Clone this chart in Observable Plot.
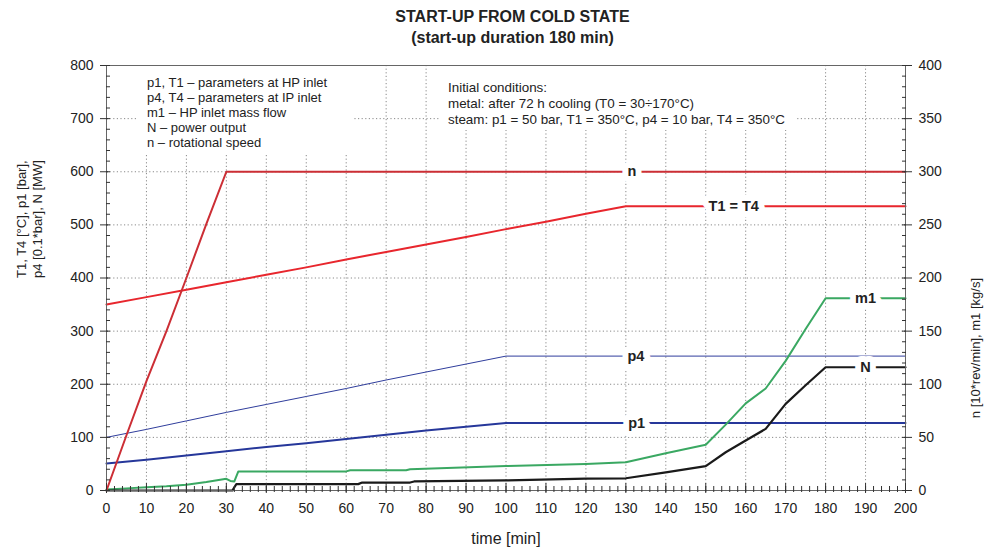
<!DOCTYPE html>
<html><head><meta charset="utf-8">
<script src="https://cdn.jsdelivr.net/npm/d3@7"></script>
<script src="https://cdn.jsdelivr.net/npm/@observablehq/plot@0.6"></script>
<style>
body{margin:0;background:#fff;font-family:"Liberation Sans",Arial,sans-serif;color:#222;}
#title{width:985px;height:52px;text-align:center;font-weight:bold;font-size:16px;line-height:21px;padding-top:6px;box-sizing:border-box;padding-left:40px;}
#wrap{position:relative;width:985px;}
.box{position:absolute;background:#fff;color:#222;white-space:nowrap;box-sizing:border-box;}
#box1{left:138px;top:14px;width:214px;height:88px;padding-left:9px;padding-top:9px;line-height:15px;font-size:13px;}
#box2{left:440px;top:14px;width:356px;height:64px;padding-left:8px;padding-top:14px;line-height:16px;font-size:13.4px;}
</style></head><body>
<div id="title">START-UP FROM COLD STATE<br>(start-up duration 180 min)</div>
<div id="wrap"><div id="chart"></div>
<div class="box" id="box1"></div>
<div class="box" id="box2"></div>
</div>
<script>
// ---- data (time in min) ----
const tT1 = [0,10,20,30,40,50,60,70,80,90,100,110,120,130,200];
const T1  = [350,364,378,392,406,420,435,449,463,477,492,506,521,535,535];
const tP  = [0,10,20,30,40,50,60,70,80,90,100,200];
const p4  = [100,115,131,147,162,177,192,208,223,238,253,253];
const p1  = [51,58,66,74,82,89,97,105,113,120,127,127];
const tN  = [0,31.5,32.5,63,64,76,77,100,120,130,140,150,155,160,165,170,175,180,200];
const N   = [0,0,12,12,15,15,17,19,22.5,23,34,46,72,94,116,163,198,232,232];
// right-axis series
const tn  = [0,5,10,15,20,25,30,200];
const n   = [0,52,103,150,200,251,300,300];
const tm1 = [0,5,10,15,20,25,30,31,32,33,60,61,75,76,100,120,130,140,150,155,160,165,170,175,180,200];
const m1  = [1,2,3,4,5.5,8,11,9,8.5,18,18,19,19,20,23,25,26.5,35,43,62,82,96,122,152,181,181];

const xTicks = d3.range(0, 201, 10);
const xMinor = d3.range(0, 201, 2);
const yTicks = d3.range(0, 801, 100);
const yMinor = d3.range(0, 801, 20);
const xGrid = d3.range(10, 200, 10);
const yGrid = d3.range(100, 800, 100);

const labelText = ["n", "T1 = T4", "m1", "p4", "N", "p1"];
const labelT    = [131.5, 157, 190, 132.5, 190, 132.7];
const labelV    = [300, 535, 181, 253, 232, 127];
const labelAxis = ["right", "left", "right", "left", "left", "left"];

const legend1 = ["p1, T1 – parameters at HP inlet","p4, T4 – parameters at IP inlet","m1 – HP inlet mass flow","N – power output","n – rotational speed"];
const legend2 = ["Initial conditions:","metal: after 72 h cooling (T0 = 30÷170°C)","steam: p1 = 50 bar, T1 = 350°C, p4 = 10 bar, T4 = 350°C"];
const leftLabel = "T1, T4 [°C], p1 [bar],\np4 [0.1*bar], N [MW]";
const rightLabel = "n [10*rev/min], m1 [kg/s]";
const xLabel = "time [min]";

const R = 2; // right axis (0–400) mapped onto left axis (0–800)
const rows = (ts, vs, k=1) => ts.map((t,i) => ({t, v: vs[i]*k}));
const labels = labelText.map((text,i) => ({text, t: labelT[i], v: labelV[i]*(labelAxis[i]==="right"?R:1)}));

document.getElementById("box1").innerHTML = legend1.join("<br>");
document.getElementById("box2").innerHTML = legend2.join("<br>");

const grid = {stroke:"#8a8a8a", strokeDasharray:"1.2,2.4", strokeWidth:1};
const chart = Plot.plot({
  width:985, height:502, marginLeft:106, marginRight:80, marginTop:13, marginBottom:64,
  x:{domain:[0,200]}, y:{domain:[0,800]},
  style:{fontFamily:"Liberation Sans, Arial, sans-serif", fontSize:"14px", background:"white", color:"#222"},
  marks:[
    Plot.ruleX(xGrid, {x:d=>d, ...grid}),
    Plot.ruleY(yGrid, {y:d=>d, ...grid}),
    Plot.line(rows(tP,p4), {x:"t", y:"v", stroke:"#2f3d9c", strokeWidth:1}),
    Plot.line(rows(tP,p1), {x:"t", y:"v", stroke:"#26379a", strokeWidth:2}),
    Plot.line(rows(tm1,m1,R), {x:"t", y:"v", stroke:"#3aa862", strokeWidth:2}),
    Plot.line(rows(tN,N), {x:"t", y:"v", stroke:"#1a1a1a", strokeWidth:2.2}),
    Plot.line(rows(tT1,T1), {x:"t", y:"v", stroke:"#e8262d", strokeWidth:2}),
    Plot.line(rows(tn,n,R), {x:"t", y:"v", stroke:"#cc2e35", strokeWidth:2}),
    Plot.text(labels, {x:"t", y:"v", text:"text", fontWeight:"bold", fontSize:14.5, fill:"#222", stroke:"white", strokeWidth:12}),
    Plot.frame({stroke:"#666"}),
    // bottom axis
    Plot.axisX({ticks:xTicks, tickSize:10, dy:-7, fill:"none", stroke:"#333", label:null}),
    Plot.axisX({ticks:xMinor, tickSize:6, dy:-4, fill:"none", stroke:"#333", label:null}),
    Plot.axisX({ticks:xTicks, tickSize:0, tickPadding:13, fontSize:14, label:null}),
    // left axis
    Plot.axisY({anchor:"left", ticks:yTicks, tickSize:8, dx:2, fill:"none", stroke:"#333", label:null}),
    Plot.axisY({anchor:"left", ticks:yMinor, tickSize:4, dx:4, fill:"none", stroke:"#333", label:null}),
    Plot.axisY({anchor:"left", ticks:yTicks, tickSize:0, tickPadding:13, fontSize:14, label:null}),
    // right axis
    Plot.axisY({anchor:"right", ticks:yTicks, tickSize:8, dx:-2, fill:"none", stroke:"#333", label:null}),
    Plot.axisY({anchor:"right", ticks:yMinor, tickSize:4, dx:-4, fill:"none", stroke:"#333", label:null}),
    Plot.axisY({anchor:"right", ticks:yTicks, tickSize:0, tickPadding:13, fontSize:14, label:null, tickFormat:d=>String(d/R)}),
    // axis titles
    Plot.text([xLabel], {frameAnchor:"bottom", dy:53, fontSize:16, text:d=>d}),
    Plot.text([leftLabel], {frameAnchor:"left", dx:-78, rotate:-90, fontSize:13, lineHeight:1.23, text:d=>d}),
    Plot.text([rightLabel], {frameAnchor:"right", dx:70, rotate:-90, fontSize:13, text:d=>d})
  ]
});
document.getElementById("chart").appendChild(chart);
</script>
</body></html>
